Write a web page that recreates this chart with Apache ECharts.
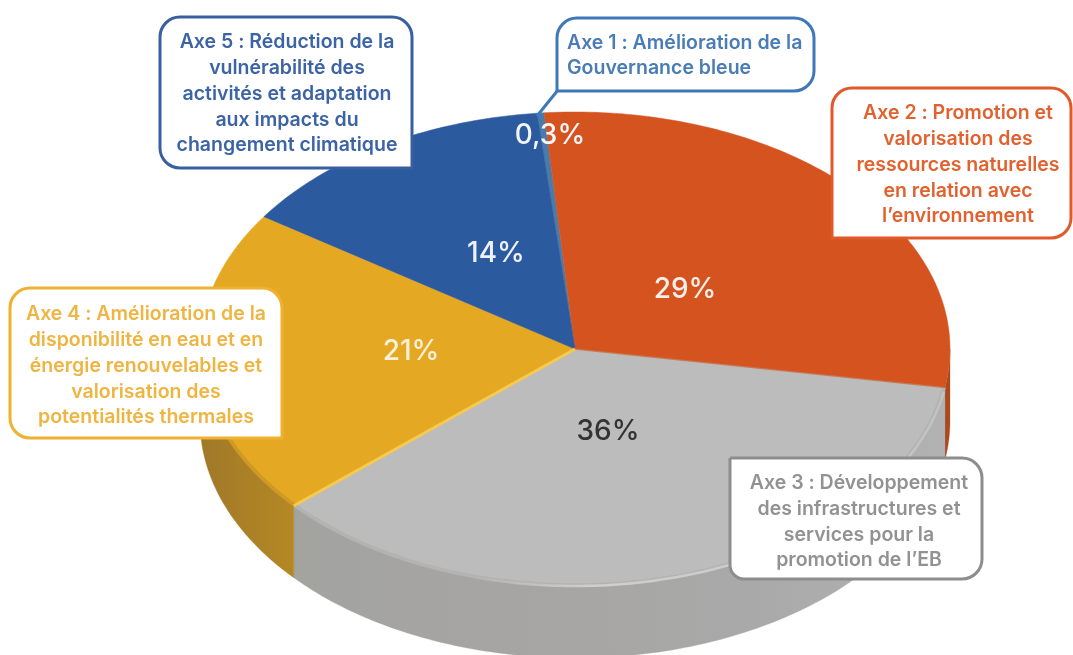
<!DOCTYPE html>
<html>
<head>
<meta charset="utf-8">
<style>html,body{margin:0;padding:0;background:#fff}#c{width:1073px;height:655px}</style>
<script src="https://cdn.jsdelivr.net/npm/echarts@6/dist/echarts.min.js"></script>
</head>
<body>
<div id="c"></div>
<script>
// Data, clockwise from the top of the pie
var categories = ['Axe 1', 'Axe 2', 'Axe 3', 'Axe 4', 'Axe 5'];
var values = [0.3, 29, 36, 21, 14];
var valueLabels = ['0,3%', '29%', '36%', '21%', '14%'];
var calloutTexts = [
  'Axe 1 : Amélioration de la\nGouvernance bleue',
  'Axe 2 : Promotion et\nvalorisation des\nressources naturelles\nen relation avec\nl\u2019environnement',
  'Axe 3 : Développement\ndes infrastructures et\nservices pour la\npromotion de l\u2019EB',
  'Axe 4 : Amélioration de la\ndisponibilité en eau et en\nénergie renouvelables et\nvalorisation des\npotentialités thermales',
  'Axe 5 : Réduction de la\nvulnérabilité des\nactivités et adaptation\naux impacts du\nchangement climatique'
];

// Styles
var topColors = ['#4a7cab', '#d5531f', '#bcbcbc', '#e5a823', '#2b5a9f'];
var rimColors = ['#3d6a98', '#ab4a1e', '#a6a6a4', '#a97e27', '#214a86'];
var bevelColors = ['#4a7cab', '#c04e1f', '#b0b0af', '#c79424', '#2b5a9f'];
var calloutColors = ['#3f78b8', '#e2592a', '#8d8d8d', '#f0b030', '#38609f'];
var textColors = ['#4a7db5', '#e2622f', '#929292', '#efb542', '#3c64a5'];
var labelColors = ['#f2f5f9', '#f6efe9', '#333333', '#f8f0dc', '#eef2f8'];

// Layout
var CX = 575, CY = 349, RX = 375, RY = 237, DEPTH = 72, START = -5.8;
var labelPos = [[550, 136], [685, 290], [608, 432], [411, 352], [496, 254]];
var boxes = [
  {x: 557, y: 18, w: 257, h: 73, r: [20, 20, 20, 0], tx: 567, ty: 55.5, align: 'left'},
  {x: 832, y: 88, w: 239, h: 150, r: [20, 20, 20, 0], tx: 958, ty: 165, align: 'center'},
  {x: 730, y: 458, w: 252, h: 121, r: [0, 20, 20, 14], tx: 859, ty: 522, align: 'center'},
  {x: 10, y: 288, w: 272, h: 150, r: [20, 20, 0, 20], tx: 146, ty: 366, align: 'center'},
  {x: 160, y: 17, w: 252, h: 151, r: [20, 20, 0, 20], tx: 287, ty: 94, align: 'center'}
];

var total = values.reduce(function (a, b) { return a + b; }, 0);
var starts = [];
values.reduce(function (acc, v, i) { starts[i] = acc; return acc + v * 360 / total; }, START);

function pt(deg, f, dy) {
  var t = deg * Math.PI / 180;
  return [CX + RX * f * Math.sin(t), CY + (dy || 0) - RY * f * Math.cos(t)];
}
function arc(a, b, f, dy) {
  var out = [], n = Math.max(2, Math.ceil(Math.abs(b - a)));
  for (var i = 0; i <= n; i++) out.push(pt(a + (b - a) * i / n, f, dy));
  return out;
}
function span(i) { return [starts[i], starts[i] + values[i] * 360 / total]; }

var rimSeries = {
  type: 'custom', coordinateSystem: 'none', silent: true, z: 1,
  data: values.map(function (v, i) { return [i, v]; }),
  renderItem: function (p, api) {
    var i = api.value(0), s = span(i);
    var a = Math.max(s[0], 90), b = Math.min(s[1], 270);
    if (a >= b) return {type: 'group', children: []};
    var pts = arc(a, b, 1, 0).concat(arc(b, a, 1, DEPTH));
    var fill = rimColors[i];
    if (i === 2) {
      fill = new echarts.graphic.LinearGradient(0, 0, 1, 0, [
        {offset: 0, color: '#a3a3a0'}, {offset: 0.35, color: '#a6a5a3'},
        {offset: 0.7, color: '#a9a9a9'}, {offset: 1, color: '#b2b2b2'}
      ]);
    }
    if (i === 3) {
      fill = new echarts.graphic.LinearGradient(0, 0, 1, 0, [
        {offset: 0, color: '#a07829'}, {offset: 1, color: '#b58824'}
      ]);
    }
    return {type: 'polygon', shape: {points: pts}, style: {fill: fill, stroke: rimColors[i], lineWidth: 0.3}};
  }
};

var topSeries = {
  type: 'custom', coordinateSystem: 'none', silent: true, z: 2,
  data: values.map(function (v, i) { return [i, v]; }),
  renderItem: function (p, api) {
    var i = api.value(0), s = span(i);
    var pts = [[CX, CY]].concat(arc(s[0], s[1], 1, 0));
    return {type: 'polygon', shape: {points: pts}, style: {fill: topColors[i], stroke: topColors[i], lineWidth: 0.5}};
  }
};

var edgeSeries = {
  type: 'custom', coordinateSystem: 'none', silent: true, z: 3,
  data: values.map(function (v, i) { return [i, v]; }),
  renderItem: function (p, api) {
    var i = api.value(0), s = span(i), kids = [];
    var a = Math.max(s[0], 90), b = Math.min(s[1], 270);
    if (a < b && i !== 1) {
      kids.push({type: 'polyline', shape: {points: arc(a, b, 0.997, 0)},
        style: {stroke: bevelColors[i], lineWidth: 4, fill: null, opacity: 0.75}});
    }
    if (i === 3) {
      kids.push({type: 'polyline', shape: {points: [[CX, CY], pt(s[0], 1)]},
        style: {stroke: '#f6c94f', lineWidth: 3, fill: null}});
    }
    if (i === 2) {
      var glow = new echarts.graphic.LinearGradient(470, 0, 950, 0, [
        {offset: 0, color: 'rgba(208,208,208,0)'}, {offset: 0.25, color: 'rgba(208,208,208,0.95)'},
        {offset: 0.65, color: 'rgba(208,208,208,0.8)'}, {offset: 1, color: 'rgba(208,208,208,0.5)'}
      ], true);
      kids.push({type: 'polyline', shape: {points: arc(s[0] + 1, 200, 1, 0)},
        style: {stroke: glow, lineWidth: 2.5, fill: null}});
      kids.push({type: 'polyline', shape: {points: [[CX, CY], pt(s[0], 1)]},
        style: {stroke: '#c9602f', lineWidth: 1.5, fill: null, opacity: 0.7}});
    }
    return {type: 'group', children: kids};
  }
};

var labelSeries = {
  type: 'custom', coordinateSystem: 'none', silent: true, z: 4,
  data: values.map(function (v, i) { return [i, v]; }),
  renderItem: function (p, api) {
    var i = api.value(0);
    return {type: 'text', style: {
      x: labelPos[i][0], y: labelPos[i][1], text: valueLabels[i],
      fill: labelColors[i], font: '500 28px Inter', textAlign: 'center', textVerticalAlign: 'middle'
    }};
  }
};

var graphics = [];
graphics.push({type: 'polyline', z: 5, shape: {points: [[558, 90], [537, 116]]},
  style: {stroke: calloutColors[0], lineWidth: 3, fill: null}});
boxes.forEach(function (b, i) {
  graphics.push({type: 'rect', z: 6, shape: {x: b.x, y: b.y, width: b.w, height: b.h, r: b.r},
    style: {fill: '#ffffff', stroke: calloutColors[i], lineWidth: 3}});
  graphics.push({type: 'text', z: 7, x: b.tx, y: b.ty, style: {
    text: calloutTexts[i], fill: textColors[i], font: '600 19.5px Inter', lineHeight: 25.7,
    textAlign: b.align, textVerticalAlign: 'middle'
  }});
});

var chart = echarts.init(document.getElementById('c'), null, {renderer: 'canvas'});
chart.setOption({
  animation: false,
  backgroundColor: '#ffffff',
  series: [rimSeries, topSeries, edgeSeries, labelSeries],
  graphic: {elements: graphics}
});
</script>
</body>
</html>
